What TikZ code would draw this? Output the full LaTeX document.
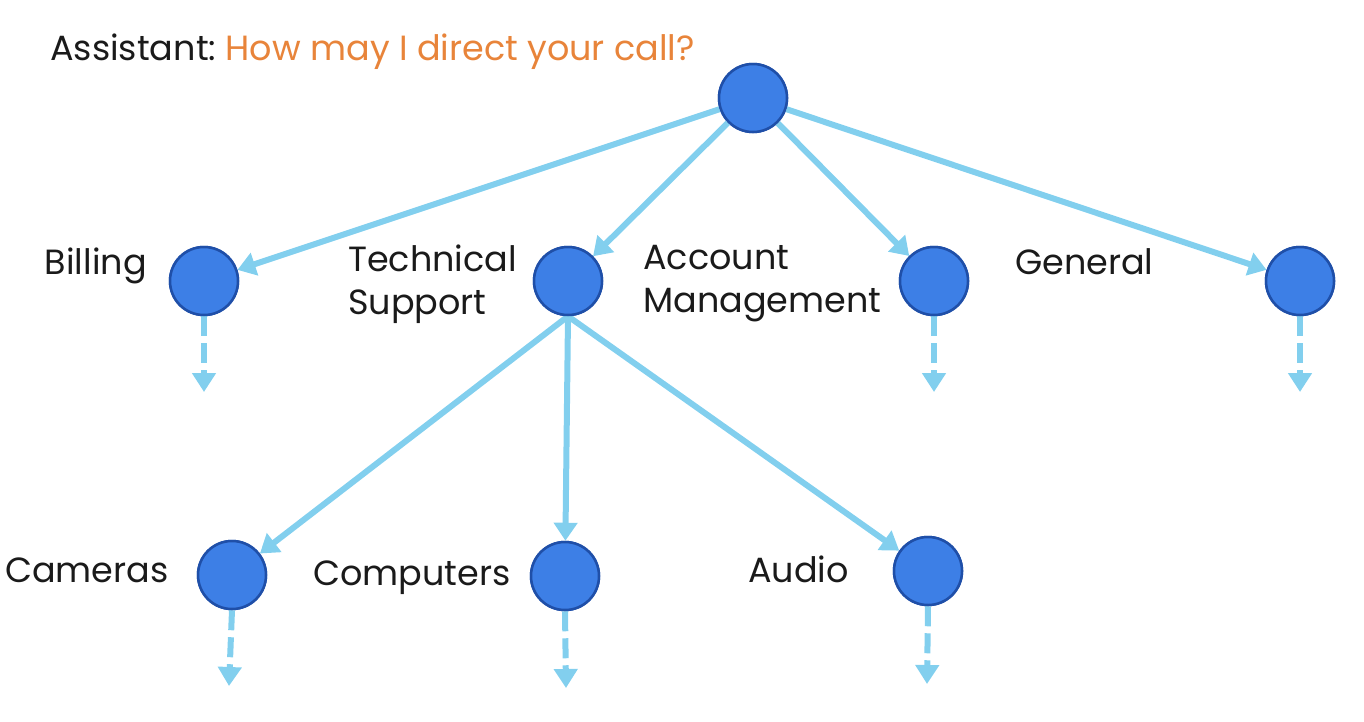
\documentclass[tikz,border=0pt]{standalone}
\usepackage{fontspec}
\setmainfont{Poppins}
\usetikzlibrary{arrows.meta}
\definecolor{edgeblue}{HTML}{82CFEE}
\definecolor{nodefill}{HTML}{3D7FE6}
\definecolor{nodeborder}{HTML}{1F4FA8}
\definecolor{qorange}{HTML}{E8843A}
\definecolor{txt}{HTML}{1A1A1A}
\tikzset{
  state/.style={circle, fill=nodefill, draw=nodeborder, line width=2.5pt, minimum size=68pt, inner sep=0pt},
  lbl/.style={inner sep=0pt, text=txt, font=\fontsize{35}{43}\selectfont, align=left},
  link/.style={draw=edgeblue, line width=6pt, -{Triangle[width=23pt,length=18pt]}},
  more/.style={draw=edgeblue, line width=6pt, dash pattern=on 20pt off 7pt, -{Triangle[width=23pt,length=19pt]}}
}
\begin{document}
\begin{tikzpicture}[x=1pt,y=-1pt]
\useasboundingbox (0,0) rectangle (1364,721);
% nodes
\node[state] (root) at (753,98) {};
\node[state] (bill) at (204,281) {};
\node[state] (tech) at (568,281) {};
\node[state] (acct) at (934,281) {};
\node[state] (gen) at (1300,281) {};
\node[state] (cam) at (232,575) {};
\node[state] (comp) at (565,576) {};
\node[state] (aud) at (928,571) {};
% free ends
\coordinate (billE) at (204,392);
\coordinate (acctE) at (934,392);
\coordinate (genE) at (1300,392);
\coordinate (camE) at (229,686);
\coordinate (compE) at (566,688);
\coordinate (audE) at (927,684);
% edges
\draw[link] (root) -- (bill);
\draw[link] (root) -- (tech);
\draw[link] (root) -- (acct);
\draw[link] (root) -- (gen);
\draw[link] (tech.south) -- (cam);
\draw[link] (tech.south) -- (comp);
\draw[link] (tech.south) -- (aud);
\draw[more] (bill.south) -- (billE);
\draw[more] (acct.south) -- (acctE);
\draw[more] (gen.south) -- (genE);
\draw[more] (cam.south) -- (camE);
\draw[more] (comp.south) -- (compE);
\draw[more] (aud.south) -- (audE);
% redraw nodes on top
\node[state] at (root) {};
\node[state] at (bill) {};
\node[state] at (tech) {};
\node[state] at (acct) {};
\node[state] at (gen) {};
\node[state] at (cam) {};
\node[state] at (comp) {};
\node[state] at (aud) {};
% labels
\node[lbl, anchor=base west] (q) at (50,60) {Assistant:\hspace{-3pt} \textcolor{qorange}{How may I direct your call?}};
\node[lbl, anchor=base east] (lbill) at (147,274) {Billing};
\node[lbl, anchor=north west] (ltech) at (348,245) {Technical\\Support};
\node[lbl, anchor=north west] (lacct) at (643,245) {Account\\Management};
\node[lbl, anchor=base west] (lgen) at (1015,274) {General};
\node[lbl, anchor=base west] (lcam) at (5,582) {Cameras};
\node[lbl, anchor=base west] (lcomp) at (313,585) {Computers};
\node[lbl, anchor=base west] (laud) at (748,582) {Audio};
\end{tikzpicture}
\end{document}
